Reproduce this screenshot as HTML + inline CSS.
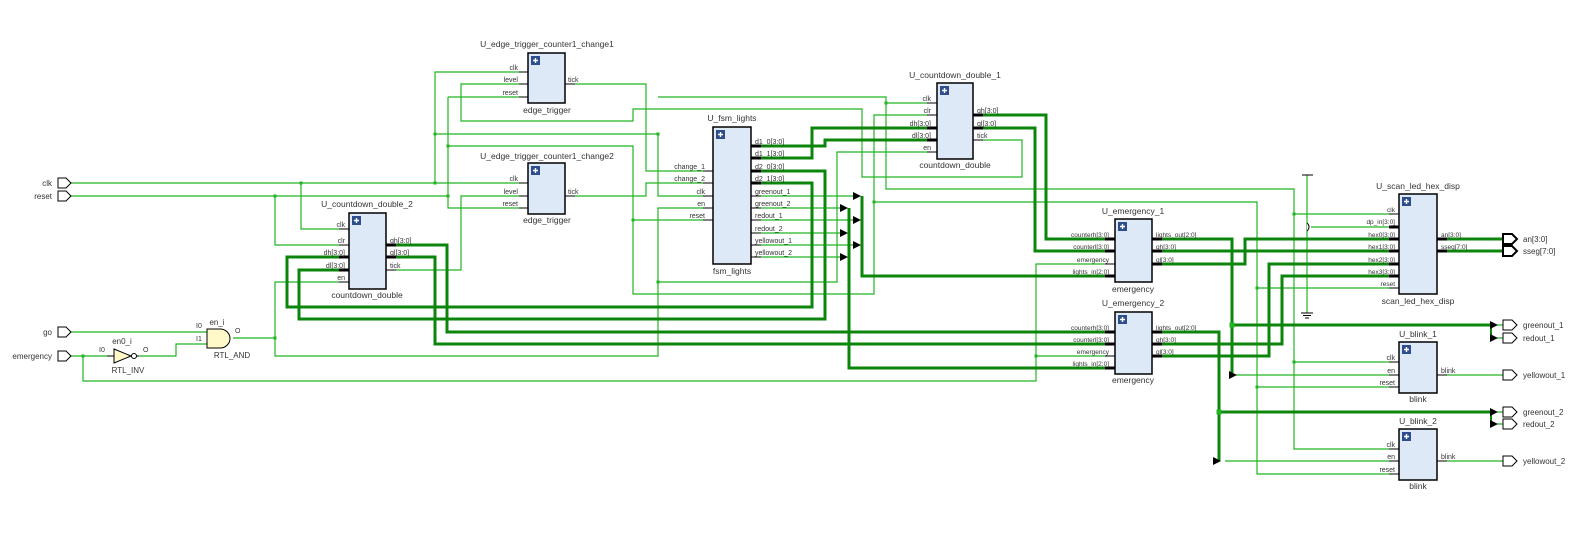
<!DOCTYPE html>
<html><head><meta charset="utf-8"><style>
html,body{margin:0;padding:0;background:#fff;}
svg{display:block;font-family:"Liberation Sans",sans-serif;}
.w{stroke:#22b522;stroke-width:1.2;fill:none;}
.b{stroke:#0b860b;stroke-width:3;fill:none;}
.box{fill:#dde9f7;stroke:#000;stroke-width:1.5;}
.s{stroke:#000;stroke-width:1;}
.sb{stroke:#000;stroke-width:3;}
.p{font-size:7px;fill:#333;}
.t{font-size:8.5px;fill:#333;text-anchor:middle;}
.r{text-anchor:end;}
.j{fill:#22b522;}
.a{fill:#000;}
.port{fill:#fff;stroke:#000;stroke-width:1;}
.portb{fill:#fff;stroke:#000;stroke-width:2;}
</style></head><body>
<svg width="1578" height="536" viewBox="0 0 1578 536" xmlns="http://www.w3.org/2000/svg">
<defs>
<g id="ic"><rect width="9" height="9" fill="#2d4d8c"/><path d="M4.5 2v5M2 4.5h5" stroke="#fff" stroke-width="1.4"/></g>
</defs>
<!-- thin wires -->
<path class="w" d="M71,183H519M301,183V229H339M435,183V72H519M435,134H658V196H703M658,97H886V189H1294V449H1389M886,103H927M1294,214H1389M1294,362H1389"/>
<path class="w" d="M71,196H448M275,196V245H339M448,97V208H519M448,97H519M448,146H633V294H874V115H927M633,220H703M874,202H1257V474H1389M1257,288H1389M1257,387H1389"/>
<path class="w" d="M519,84H461V121H633V109H862V177H1022V140H983M519,196H461V270H396M575,84H646V171H703M575,196H646V183H703"/>
<path class="w" d="M233,338H275V282H339M275,338V356H658V208H703M658,282H837V152H927"/>
<path class="w" d="M71,356H107M83,356V381H1036V264H1105M1036,356H1105M71,332H207M139,356H176V344H207"/>
<path class="w" d="M761,196H854M761,208H841M761,220H854M761,233H841M761,245H854M761,257H841"/>
<path class="w" d="M1447,375H1503M1447,461H1503M1236,375H1389M1225,461H1389M1497,325H1503M1497,338H1503M1497,412H1503M1497,424H1503"/>
<path class="w" d="M1307,175V313M1311,227H1389"/>
<path d="M1302,175H1313M1301,313H1313M1303,315.5H1311M1305,318H1309" stroke="#000" stroke-width="1"/>
<path d="M1307,223Q1311,227 1307,231" stroke="#000" fill="#fff" stroke-width="1"/>
<!-- thick wires -->
<path class="b" d="M983,115H1046V239H1105M983,128H1035V251H1105M761,146H825V140H927M761,158H812V128H927"/>
<path class="b" d="M761,171H825V319H299V270H339M761,183H812V307H287V257H339M396,245H447V332H1105M396,257H435V344H1105"/>
<path class="b" d="M862,196V276H1105M849,208V368H1105"/>
<path class="b" d="M1162,239H1232V375M1232,325H1490M1162,251H1389M1162,264H1245V239H1389M1162,332H1219V461M1219,412H1490M1162,344H1282V276H1389M1162,356H1269V264H1389M1447,239H1503M1447,251H1503"/>
<path d="M1491,325V338M1491,412V424" stroke="#0b860b" stroke-width="2"/>
<!-- junctions -->
<g class="j">
<rect x="299.5" y="181.5" width="3" height="3"/><rect x="433.5" y="181.5" width="3" height="3"/><rect x="433.5" y="132.5" width="3" height="3"/><rect x="273.5" y="194.5" width="3" height="3"/><rect x="446.5" y="194.5" width="3" height="3"/><rect x="446.5" y="144.5" width="3" height="3"/><rect x="656.5" y="132.5" width="3" height="3"/><rect x="656.5" y="280.5" width="3" height="3"/><rect x="884.5" y="101.5" width="3" height="3"/><rect x="631.5" y="218.5" width="3" height="3"/><rect x="872.5" y="200.5" width="3" height="3"/><rect x="1292.5" y="212.5" width="3" height="3"/><rect x="1292.5" y="360.5" width="3" height="3"/><rect x="1255.5" y="286.5" width="3" height="3"/><rect x="1255.5" y="385.5" width="3" height="3"/><rect x="273.5" y="336.5" width="3" height="3"/><rect x="81.5" y="354.5" width="3" height="3"/><rect x="1034.5" y="354.5" width="3" height="3"/><rect x="1229.5" y="322.5" width="5" height="5"/><rect x="1216.5" y="409.5" width="5" height="5"/>
</g>
<!-- arrows -->
<g class="a">
<path d="M853,192L861,196L853,200Z"/><path d="M840,204L848,208L840,212Z"/><path d="M853,216L861,220L853,224Z"/><path d="M840,229L848,233L840,237Z"/><path d="M853,241L861,245L853,249Z"/><path d="M840,253L848,257L840,261Z"/>
<path d="M1229,371L1237,375L1229,379Z"/><path d="M1213,457L1221,461L1213,465Z"/>
<path d="M1490,321L1498,325L1490,329Z"/><path d="M1490,334L1498,338L1490,342Z"/><path d="M1490,408L1498,412L1490,416Z"/><path d="M1490,420L1498,424L1490,428Z"/>
</g>
<!-- input ports -->
<g class="port"><path d="M58,178H66L71,183L66,188H58Z"/><path d="M58,191H66L71,196L66,201H58Z"/><path d="M58,327H66L71,332L66,337H58Z"/><path d="M58,351H66L71,356L66,361H58Z"/></g>
<g class="p" style="font-size:8px"><text x="52" y="186" class="r">clk</text><text x="52" y="199" class="r">reset</text><text x="52" y="335" class="r">go</text><text x="52" y="359" class="r">emergency</text></g>
<!-- output ports -->
<g class="portb"><path d="M1503,234H1512L1517,239L1512,244H1503Z"/><path d="M1503,246H1512L1517,251L1512,256H1503Z"/></g>
<g class="port"><path d="M1503,320H1512L1517,325L1512,330H1503Z"/><path d="M1503,333H1512L1517,338L1512,343H1503Z"/><path d="M1503,370H1512L1517,375L1512,380H1503Z"/><path d="M1503,407H1512L1517,412L1512,417H1503Z"/><path d="M1503,419H1512L1517,424L1512,429H1503Z"/><path d="M1503,456H1512L1517,461L1512,466H1503Z"/></g>
<g class="p" style="font-size:8px"><text x="1523" y="242">an[3:0]</text><text x="1523" y="254">sseg[7:0]</text><text x="1523" y="328">greenout_1</text><text x="1523" y="341">redout_1</text><text x="1523" y="378">yellowout_1</text><text x="1523" y="415">greenout_2</text><text x="1523" y="427">redout_2</text><text x="1523" y="464">yellowout_2</text></g>
<!-- gates -->
<path d="M107,356H114M133,356H139" class="s"/>
<path d="M114,349L131,356L114,363Z" fill="#fff8c8" stroke="#000"/><circle cx="134" cy="356" r="2.5" fill="#fff" stroke="#000"/>
<text x="122" y="344" class="t" style="font-size:8px">en0_i</text><text x="128" y="373" class="t" style="font-size:8px">RTL_INV</text>
<text x="99" y="352" class="p">I0</text><text x="143" y="352" class="p">O</text>
<path d="M207,329H220A10,9.5 0 0 1 220,348H207Z" fill="#fff8c8" stroke="#000"/>
<text x="217" y="325" class="t" style="font-size:8px">en_i</text><text x="232" y="358" class="t" style="font-size:8px">RTL_AND</text>
<text x="196" y="328" class="p">I0</text><text x="196" y="341" class="p">I1</text><text x="235" y="333" class="p">O</text>
<!-- edge1 -->
<rect class="box" x="528" y="53" width="37" height="50"/><use href="#ic" x="531" y="56"/>
<path class="s" d="M519,72H528M519,84H528M519,97H528M565,84H575"/>
<g class="p"><text x="518" y="70" class="r">clk</text><text x="518" y="82" class="r">level</text><text x="518" y="95" class="r">reset</text><text x="568" y="82">tick</text></g>
<text x="547" y="47" class="t">U_edge_trigger_counter1_change1</text><text x="547" y="113" class="t">edge_trigger</text>
<!-- edge2 -->
<rect class="box" x="528" y="163" width="37" height="51"/><use href="#ic" x="531" y="166"/>
<path class="s" d="M519,183H528M519,196H528M519,208H528M565,196H575"/>
<g class="p"><text x="518" y="181" class="r">clk</text><text x="518" y="194" class="r">level</text><text x="518" y="206" class="r">reset</text><text x="568" y="194">tick</text></g>
<text x="547" y="159" class="t">U_edge_trigger_counter1_change2</text><text x="547" y="223" class="t">edge_trigger</text>
<!-- cd2 -->
<rect class="box" x="349" y="213" width="37" height="76"/><use href="#ic" x="352" y="216"/>
<path class="s" d="M339,229H349M339,245H349M339,282H349M386,270H396"/><path class="sb" d="M339,257H349M339,270H349M386,245H396M386,257H396"/>
<g class="p"><text x="345" y="227" class="r">clk</text><text x="345" y="243" class="r">clr</text><text x="345" y="255" class="r">dh[3:0]</text><text x="345" y="268" class="r">dl[3:0]</text><text x="345" y="280" class="r">en</text><text x="390" y="243">qh[3:0]</text><text x="390" y="255">ql[3:0]</text><text x="390" y="268">tick</text></g>
<text x="367" y="207" class="t">U_countdown_double_2</text><text x="367" y="298" class="t">countdown_double</text>
<!-- fsm -->
<rect class="box" x="713" y="127" width="38" height="137"/><use href="#ic" x="716" y="130"/>
<path class="s" d="M703,171H713M703,183H713M703,196H713M703,208H713M703,220H713M751,196H761M751,208H761M751,220H761M751,233H761M751,245H761M751,257H761"/>
<path class="sb" d="M751,146H761M751,158H761M751,171H761M751,183H761"/>
<g class="p"><text x="705" y="169" class="r">change_1</text><text x="705" y="181" class="r">change_2</text><text x="705" y="194" class="r">clk</text><text x="705" y="206" class="r">en</text><text x="705" y="218" class="r">reset</text>
<text x="755" y="144">d1_0[3:0]</text><text x="755" y="156">d1_1[3:0]</text><text x="755" y="169">d2_0[3:0]</text><text x="755" y="181">d2_1[3:0]</text><text x="755" y="194">greenout_1</text><text x="755" y="206">greenout_2</text><text x="755" y="218">redout_1</text><text x="755" y="231">redout_2</text><text x="755" y="243">yellowout_1</text><text x="755" y="255">yellowout_2</text></g>
<text x="732" y="121" class="t">U_fsm_lights</text><text x="732" y="274" class="t">fsm_lights</text>
<!-- cd1 -->
<rect class="box" x="937" y="83" width="36" height="76"/><use href="#ic" x="940" y="86"/>
<path class="s" d="M927,103H937M927,115H937M927,152H937M973,140H983"/><path class="sb" d="M927,128H937M927,140H937M973,115H983M973,128H983"/>
<g class="p"><text x="931" y="101" class="r">clk</text><text x="931" y="113" class="r">clr</text><text x="931" y="126" class="r">dh[3:0]</text><text x="931" y="138" class="r">dl[3:0]</text><text x="931" y="150" class="r">en</text><text x="977" y="113">qh[3:0]</text><text x="977" y="126">ql[3:0]</text><text x="977" y="138">tick</text></g>
<text x="955" y="78" class="t">U_countdown_double_1</text><text x="955" y="168" class="t">countdown_double</text>
<!-- em1 -->
<rect class="box" x="1115" y="219" width="37" height="63"/><use href="#ic" x="1118" y="222"/>
<path class="s" d="M1105,264H1115"/><path class="sb" d="M1105,239H1115M1105,251H1115M1105,276H1115M1152,239H1162M1152,251H1162M1152,264H1162"/>
<g class="p" style="font-size:6.5px"><text x="1109" y="237" class="r">counterh[3:0]</text><text x="1109" y="249" class="r">counterl[3:0]</text><text x="1109" y="262" class="r">emergency</text><text x="1109" y="274" class="r">lights_in[2:0]</text><text x="1156" y="237">lights_out[2:0]</text><text x="1156" y="249">qh[3:0]</text><text x="1156" y="262">ql[3:0]</text></g>
<text x="1133" y="214" class="t">U_emergency_1</text><text x="1133" y="292" class="t">emergency</text>
<!-- em2 -->
<rect class="box" x="1115" y="312" width="37" height="62"/><use href="#ic" x="1118" y="315"/>
<path class="s" d="M1105,356H1115"/><path class="sb" d="M1105,332H1115M1105,344H1115M1105,368H1115M1152,332H1162M1152,344H1162M1152,356H1162"/>
<g class="p" style="font-size:6.5px"><text x="1109" y="330" class="r">counterh[3:0]</text><text x="1109" y="342" class="r">counterl[3:0]</text><text x="1109" y="354" class="r">emergency</text><text x="1109" y="366" class="r">lights_in[2:0]</text><text x="1156" y="330">lights_out[2:0]</text><text x="1156" y="342">qh[3:0]</text><text x="1156" y="354">ql[3:0]</text></g>
<text x="1133" y="306" class="t">U_emergency_2</text><text x="1133" y="383" class="t">emergency</text>
<!-- scan -->
<rect class="box" x="1399" y="194" width="38" height="100"/><use href="#ic" x="1402" y="197"/>
<path class="s" d="M1389,214H1399M1389,288H1399"/><path class="sb" d="M1389,227H1399M1389,239H1399M1389,251H1399M1389,264H1399M1389,276H1399M1437,239H1447M1437,251H1447"/>
<g class="p" style="font-size:6.5px"><text x="1395" y="212" class="r">clk</text><text x="1395" y="224" class="r">dp_in[3:0]</text><text x="1395" y="237" class="r">hex0[3:0]</text><text x="1395" y="249" class="r">hex1[3:0]</text><text x="1395" y="262" class="r">hex2[3:0]</text><text x="1395" y="274" class="r">hex3[3:0]</text><text x="1395" y="286" class="r">reset</text><text x="1441" y="237">an[3:0]</text><text x="1441" y="249">sseg[7:0]</text></g>
<text x="1418" y="189" class="t">U_scan_led_hex_disp</text><text x="1418" y="304" class="t">scan_led_hex_disp</text>
<!-- blink1 -->
<rect class="box" x="1399" y="342" width="38" height="51"/><use href="#ic" x="1402" y="345"/>
<path class="s" d="M1389,362H1399M1389,375H1399M1389,387H1399M1437,375H1447"/>
<g class="p"><text x="1395" y="360" class="r">clk</text><text x="1395" y="373" class="r">en</text><text x="1395" y="385" class="r">reset</text><text x="1441" y="373">blink</text></g>
<text x="1418" y="337" class="t">U_blink_1</text><text x="1418" y="402" class="t">blink</text>
<!-- blink2 -->
<rect class="box" x="1399" y="429" width="38" height="51"/><use href="#ic" x="1402" y="432"/>
<path class="s" d="M1389,449H1399M1389,461H1399M1389,474H1399M1437,461H1447"/>
<g class="p"><text x="1395" y="447" class="r">clk</text><text x="1395" y="459" class="r">en</text><text x="1395" y="472" class="r">reset</text><text x="1441" y="459">blink</text></g>
<text x="1418" y="424" class="t">U_blink_2</text><text x="1418" y="489" class="t">blink</text>
</svg>
</body></html>
